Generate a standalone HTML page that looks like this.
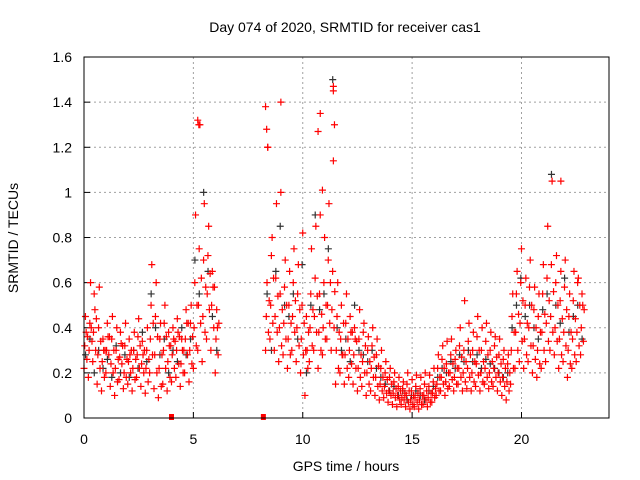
<!DOCTYPE html>
<html><head><meta charset="utf-8"><style>
body{margin:0;background:#fff}
svg{display:block;font-family:"Liberation Sans",sans-serif}
</style></head><body>
<svg id="chart" width="640" height="480" xmlns="http://www.w3.org/2000/svg">
<rect width="640" height="480" fill="#fff"/>
<text x="345" y="32" font-size="14" text-anchor="middle">Day 074 of 2020, SRMTID for receiver cas1</text>
<text x="346" y="471" font-size="14" text-anchor="middle">GPS time / hours</text>
<text x="18" y="238" font-size="14" text-anchor="middle" transform="rotate(-90 18 238)">SRMTID / TECUs</text>
<g id="grid"></g><g id="ticks"></g><g id="marks"></g>
<rect x="84" y="57" width="525" height="361" fill="none" stroke="#000" stroke-width="1"/>
</svg>
<script>
const xTicks=[0,5,10,15,20];
const yTicks=[0,0.2,0.4,0.6,0.8,1,1.2,1.4,1.6];
const yTickLabels=["0","0.2","0.4","0.6","0.8","1","1.2","1.4","1.6"];
const times=[0,0.2,0.4,0.6,0.8,1,1.2,1.4,1.6,1.8,2,2.2,2.4,2.6,2.8,3,3.2,3.4,3.6,3.8,4,4.2,4.4,4.6,4.8,5,5.2,5.4,5.6,5.8,6,
8.3,8.5,8.7,8.9,9.1,9.3,9.5,9.7,9.9,10.1,10.3,10.5,10.7,10.9,11.1,11.3,11.5,11.7,11.9,12.1,12.3,12.5,12.7,12.9,13.1,13.3,13.5,13.7,13.9,14.1,14.3,14.5,14.7,14.9,15.1,15.3,15.5,15.7,15.9,16.1,16.3,16.5,16.7,16.9,17.1,17.3,17.5,17.7,17.9,18.1,18.3,18.5,18.7,18.9,19.1,19.3,19.5,19.7,19.9,20.1,20.3,20.5,20.7,20.9,21.1,21.3,21.5,21.7,21.9,22.1,22.3,22.5,22.7];
const redA=[.22,.18,.25,.15,.12,.20,.14,.10,.17,.13,.15,.12,.18,.14,.11,.20,.13,.09,.15,.12,.16,.18,.14,.20,.16,.22,.30,.25,.35,.30,.20,
.30,.35,.30,.25,.28,.22,.30,.25,.20,.10,.25,.30,.22,.28,.35,.30,.15,.20,.15,.18,.15,.12,.14,.10,.12,.10,.08,.09,.07,.06,.05,.06,.05,.04,.05,.04,.06,.05,.07,.10,.12,.10,.14,.12,.15,.12,.13,.12,.14,.12,.15,.13,.14,.12,.10,.08,.15,.22,.25,.22,.25,.20,.18,.22,.25,.30,.28,.22,.25,.18,.22,.25,.28];
const redB=[.32,.30,.38,.28,.25,.30,.24,.22,.27,.20,.25,.22,.28,.24,.22,.35,.28,.22,.30,.25,.28,.30,.24,.35,.30,.40,.50,.45,.55,.50,.35,
.45,.50,.45,.40,.42,.35,.45,.40,.35,.30,.40,.45,.38,.40,.50,.48,.30,.35,.28,.30,.28,.22,.25,.20,.22,.18,.15,.14,.12,.11,.10,.09,.10,.08,.09,.08,.10,.09,.11,.15,.18,.16,.20,.18,.22,.20,.22,.20,.24,.20,.22,.20,.22,.20,.18,.16,.30,.38,.42,.35,.40,.32,.30,.38,.42,.45,.40,.35,.38,.30,.35,.38,.40];
const redC=[.45,.42,.55,.40,.35,.42,.35,.30,.38,.32,.35,.30,.36,.34,.30,.50,.45,.35,.42,.38,.40,.44,.35,.48,.42,.60,.75,.70,.72,.65,.48,
.60,.72,.62,.55,.58,.50,.60,.55,.50,.45,.55,.62,.55,.60,.70,.65,.45,.50,.42,.45,.40,.35,.38,.30,.32,.28,.22,.20,.18,.16,.14,.13,.15,.12,.14,.13,.15,.14,.16,.22,.26,.24,.28,.26,.32,.30,.34,.30,.36,.30,.34,.30,.32,.28,.26,.24,.45,.55,.60,.50,.58,.48,.45,.55,.62,.68,.60,.52,.58,.45,.52,.60,.55];
const redD=[.38,.60,.48,.58,.30,.36,.45,.40,.33,.42,.28,.38,.44,.28,.40,.68,.60,.42,.50,.32,.35,.38,.30,.42,.50,.90,1.3,.95,.85,.58,.40,
1.2,.80,.95,1.0,.70,.65,.75,.68,.82,.30,.75,.85,.90,.80,.95,1.45,.60,.28,.55,.38,.35,.48,.42,.36,.40,.35,.30,.25,.22,.20,.18,.16,.20,.17,.19,.18,.20,.19,.22,.28,.32,.34,.35,.30,.40,.52,.42,.38,.45,.40,.42,.38,.36,.35,.30,.28,.55,.65,.75,.62,.70,.58,.55,.68,.85,1.05,.72,.65,.70,.55,.65,.62,.50];
const redE=[.26,.40,.30,.22,.18,.28,.20,.16,.24,.18,.20,.17,.22,.20,.16,.28,.20,.14,.22,.18,.22,.24,.20,.28,.24,.32,.42,.38,.48,.40,.28,
.38,.42,.38,.32,.35,.28,.38,.32,.28,.22,.32,.38,.30,.35,.42,.40,.22,.28,.22,.24,.22,.18,.20,.15,.18,.14,.12,.11,.10,.09,.08,.08,.07,.06,.07,.06,.08,.07,.09,.12,.15,.13,.17,.15,.18,.16,.18,.16,.19,.16,.18,.16,.18,.16,.14,.12,.22,.30,.34,.28,.32,.26,.24,.30,.34,.38,.34,.28,.32,.24,.28,.32,.34];
const redF=[.36,.34,.44,.34,.30,.36,.30,.26,.32,.26,.30,.26,.32,.30,.26,.42,.36,.28,.36,.32,.34,.36,.30,.42,.36,.50,.62,.58,.64,.58,.42,
.52,.62,.54,.48,.50,.42,.52,.48,.42,.38,.48,.54,.46,.50,.60,.56,.38,.42,.35,.38,.34,.28,.32,.25,.27,.23,.18,.17,.15,.13,.12,.11,.12,.10,.11,.10,.12,.11,.13,.18,.22,.20,.24,.22,.27,.25,.28,.25,.30,.25,.28,.25,.27,.24,.22,.20,.38,.46,.52,.42,.50,.40,.38,.46,.52,.56,.50,.44,.48,.38,.44,.50,.48];
const blackVals=[.28,.35,.20,.30,.22,.26,.18,.32,.20,.28,.18,.30,.22,.38,.25,.55,.40,.28,.35,.20,.30,.25,.40,.28,.35,.70,.55,1.0,.65,.45,.30,
.55,.30,.65,.85,.50,.45,.55,.35,.68,.20,.50,.90,.48,.55,.75,1.5,.40,.30,.35,.25,.50,.30,.28,.25,.30,.22,.18,.15,.12,.14,.10,.12,.08,.10,.12,.10,.08,.12,.14,.18,.22,.20,.25,.22,.28,.25,.30,.25,.28,.22,.26,.24,.22,.20,.18,.20,.40,.50,.62,.45,.50,.40,.35,.48,.55,1.08,.50,.42,.62,.38,.45,.50,.35];
const spikeTimes=[5.2,5.25,8.3,8.35,8.4,9.0,10.8,10.7,11.4,11.45,11.4,21.8,10.9];
const spikeVals=[1.32,1.3,1.38,1.28,1.2,1.4,1.35,1.27,1.47,1.3,1.14,1.05,1.01];
const gapTimes=[4.0,8.2];
const gapVals=[0,0];

const NS="http://www.w3.org/2000/svg";
const X=h=>84+h*21.875, Y=v=>418-v*225.6;
const grid=document.getElementById('grid'),ticks=document.getElementById('ticks'),marks=document.getElementById('marks');
function mk(tag,at,parent){const e=document.createElementNS(NS,tag);for(const k in at)e.setAttribute(k,at[k]);parent.appendChild(e);return e;}
xTicks.forEach(t=>{
  if(t>0){const g=mk('line',{x1:X(t),x2:X(t),y1:57,y2:418,stroke:'#a0a0a0','stroke-dasharray':'2,3'},grid);
  
  }
  const l=mk('text',{x:X(t),y:444,'font-size':14,'text-anchor':'middle'},ticks);l.textContent=t;
  
  
  mk('line',{x1:X(t),x2:X(t),y1:418,y2:412,stroke:'#000'},ticks);
});
yTicks.forEach((v,i)=>{
  if(v>0&&v<1.6){const g=mk('line',{x1:84,x2:609,y1:Y(v),y2:Y(v),stroke:'#a0a0a0','stroke-dasharray':'2,3'},grid);
  
  }
  const l=mk('text',{x:72,y:Y(v)+5,'font-size':14,'text-anchor':'end'},ticks);l.textContent=yTickLabels[i];
  
  
  mk('line',{x1:84,x2:90,y1:Y(v),y2:Y(v),stroke:'#000'},ticks);
});
function plus(t,v,col,name){
  const x=X(t),y=Y(v);
  const p=mk('path',{d:`M${x-3.5} ${y}H${x+3.5}M${x} ${y-3.5}V${y+3.5}`,stroke:col,'stroke-width':1.2,fill:'none'},marks);
  
  
}
times.forEach((t,i)=>plus(t+0.07,blackVals[i],'#333','black-point'));
[redA,redB,redC,redD,redE,redF].forEach((arr,k)=>times.forEach((t,i)=>plus(t+k*0.033,arr[i],'#ff0000','red-point')));
spikeTimes.forEach((t,i)=>plus(t,spikeVals[i],'#ff0000','red-spike-point'));
gapTimes.forEach((t,i)=>{
  const r=mk('rect',{x:X(t)-2.5,y:Y(gapVals[i])-4,width:5,height:6,fill:'#ff0000'},marks);
  
  
});
</script>
</body></html>
